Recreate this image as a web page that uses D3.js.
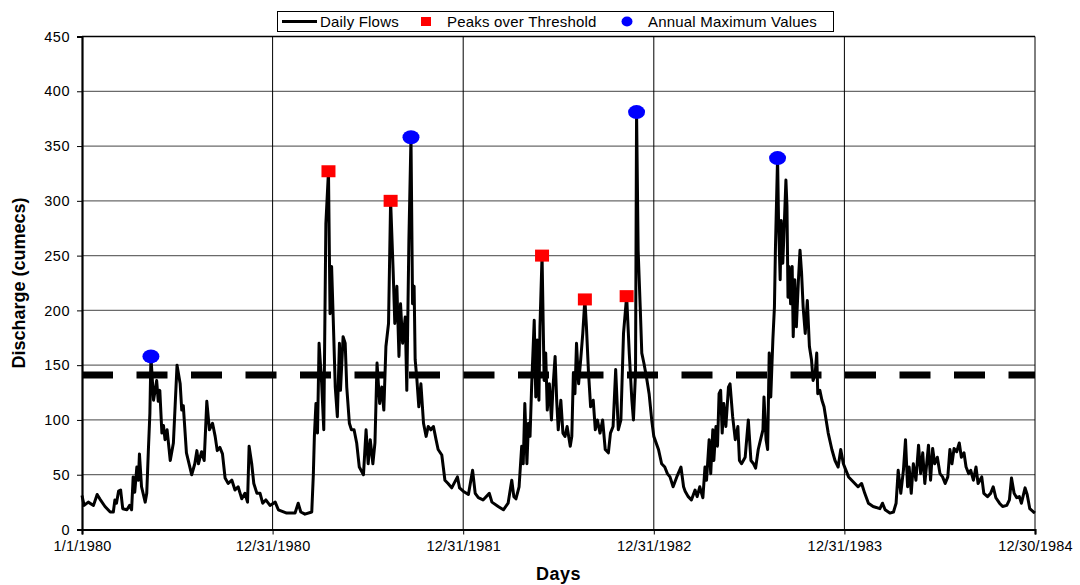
<!DOCTYPE html>
<html>
<head>
<meta charset="utf-8">
<script src="https://cdn.jsdelivr.net/npm/d3@7"></script>
<style>
  body { margin: 0; background: #fff; }
  text { font-family: 'Liberation Sans', Arial, sans-serif; }
</style>
</head>
<body>
<svg></svg>
<script>
const w = 1080;
const h = 585;
const svg = d3.select('svg').attr('width', w).attr('height', h);

// day offsets from 1/1/1980 and daily discharge (cumecs)
const flowDays = [
  0, 4, 12, 22, 29, 34, 44, 54, 60, 63, 66, 70, 74, 78, 86, 91, 95, 98, 101, 105,
  108, 110, 114, 121, 124, 127, 130, 132, 137, 143, 146, 149, 153, 156, 159, 163, 169, 175, 182, 188,
  191, 194, 200, 210, 216, 220, 223, 229, 234, 239, 244, 250, 255, 259, 264, 269, 274, 280, 287, 293,
  299, 306, 312, 317, 320, 325, 329, 335, 341, 346, 352, 360, 370, 376, 392, 408, 414, 419, 427, 440,
  443, 445, 448, 451, 454, 459, 463, 467, 472, 475, 478, 481, 485, 489, 493, 495, 500, 504, 507, 512,
  516, 521, 526, 531, 539, 544, 548, 552, 557, 561, 565, 570, 574, 578, 582, 587, 591, 596, 599, 603,
  607, 610, 614, 619, 622, 626, 630, 633, 636, 638, 641, 645, 649, 654, 659, 663, 668, 673, 678, 682,
  689, 695, 701, 708, 719, 723, 730, 740, 748, 753, 759, 768, 780, 785, 797, 807, 816, 823, 827, 831,
  837, 842, 845, 848, 852, 855, 858, 861, 866, 869, 872, 875, 877, 881, 885, 888, 891, 895, 899, 902,
  906, 909, 912, 917, 921, 925, 929, 935, 938, 941, 944, 947, 951, 955, 959, 963, 966, 970, 974, 979,
  983, 987, 992, 997, 1002, 1008, 1012, 1017, 1022, 1027, 1032, 1037, 1043, 1048, 1053, 1056, 1060, 1062, 1065, 1069,
  1072, 1076, 1081, 1086, 1091, 1095, 1104, 1110, 1116, 1121, 1126, 1132, 1139, 1147, 1152, 1155, 1161, 1167, 1174, 1178,
  1183, 1189, 1193, 1196, 1201, 1204, 1208, 1210, 1214, 1217, 1220, 1223, 1226, 1229, 1233, 1238, 1241, 1246, 1251, 1256,
  1259, 1263, 1270, 1276, 1281, 1286, 1290, 1295, 1298, 1304, 1306, 1310, 1313, 1316, 1319, 1323, 1326, 1328, 1332, 1334,
  1337, 1339, 1342, 1344, 1348, 1350, 1352, 1354, 1357, 1360, 1362, 1365, 1368, 1372, 1375, 1378, 1381, 1385, 1389, 1393,
  1397, 1400, 1404, 1407, 1409, 1413, 1417, 1421, 1425, 1429, 1436, 1442, 1448, 1453, 1458, 1463, 1468, 1474, 1480, 1486,
  1493, 1499, 1506, 1515, 1528, 1533, 1538, 1547, 1554, 1559, 1563, 1568, 1573, 1577, 1581, 1584, 1588, 1592, 1597, 1602,
  1606, 1610, 1614, 1617, 1621, 1625, 1629, 1633, 1638, 1643, 1648, 1653, 1658, 1662, 1666, 1670, 1675, 1680, 1684, 1689,
  1693, 1698, 1702, 1707, 1712, 1716, 1723, 1727, 1734, 1740, 1745, 1750, 1757, 1763, 1771, 1776, 1780, 1785, 1790, 1795,
  1799, 1806, 1810, 1815, 1822, 1825
];
const flowValues = [
  31, 22, 25, 22, 32, 28, 21, 16, 16, 27, 24, 35, 36, 19, 18, 22, 18, 48, 34, 57,
  45, 69, 39, 25, 33, 71, 106, 158, 118, 136, 117, 127, 88, 95, 82, 91, 63, 79, 150, 133,
  109, 113, 70, 50, 60, 72, 60, 71, 63, 117, 91, 97, 85, 72, 75, 69, 47, 42, 45, 36,
  39, 28, 33, 25, 76, 60, 42, 33, 33, 24, 27, 22, 25, 18, 15, 15, 24, 16, 14, 16,
  50, 85, 115, 88, 170, 133, 91, 279, 327, 197, 240, 194, 130, 103, 170, 127, 176, 170, 130, 97,
  91, 91, 79, 57, 50, 91, 60, 82, 60, 79, 152, 115, 130, 109, 167, 188, 300, 234, 188, 222,
  158, 206, 170, 194, 127, 264, 358, 206, 222, 155, 139, 112, 133, 97, 85, 94, 91, 94, 82, 73,
  68, 45, 42, 38, 48, 38, 35, 32, 54, 33, 29, 27, 33, 25, 21, 18, 24, 45, 30, 28,
  39, 76, 60, 115, 60, 97, 85, 130, 191, 121, 173, 118, 185, 250, 136, 161, 109, 133, 100, 130,
  158, 118, 91, 118, 88, 85, 94, 76, 85, 143, 124, 170, 133, 155, 179, 210, 185, 143, 112, 118,
  91, 100, 88, 100, 73, 70, 88, 94, 146, 91, 100, 179, 213, 161, 118, 100, 143, 381, 255, 203,
  161, 152, 139, 124, 100, 85, 73, 60, 57, 51, 48, 39, 48, 57, 39, 35, 30, 27, 36, 30,
  39, 29, 57, 45, 82, 51, 91, 63, 94, 76, 124, 127, 88, 115, 94, 130, 133, 103, 82, 94,
  63, 60, 66, 100, 63, 60, 56, 73, 79, 91, 121, 82, 73, 161, 121, 173, 203, 258, 339, 279,
  228, 282, 243, 267, 319, 295, 212, 240, 206, 240, 176, 228, 185, 228, 255, 234, 203, 179, 209, 167,
  155, 136, 142, 161, 124, 127, 118, 112, 100, 88, 73, 63, 57, 73, 60, 54, 48, 45, 42, 39,
  42, 33, 24, 21, 19, 24, 18, 15, 16, 24, 54, 33, 54, 82, 39, 57, 33, 60, 45, 77,
  51, 70, 42, 57, 77, 45, 74, 60, 66, 51, 48, 42, 48, 73, 60, 74, 71, 79, 66, 70,
  57, 51, 54, 45, 57, 42, 48, 33, 30, 33, 39, 29, 24, 21, 22, 27, 47, 33, 29, 30,
  24, 38, 32, 19, 16, 15
];

const potDays = [472, 591, 881, 963, 1043];
const potValues = [327, 300, 250, 210, 213];
const amDays = [132, 630, 1062, 1332];
const amValues = [158, 358, 381, 339];
const threshold = 141;

const tickDays = [0, 365, 730, 1095, 1460, 1825];
const tickLabels = ['1/1/1980', '12/31/1980', '12/31/1981', '12/31/1982', '12/31/1983', '12/30/1984'];
const yTicks = [0, 50, 100, 150, 200, 250, 300, 350, 400, 450];

const plotLeft = 82, plotRight = 1035, plotTop = 36.5, plotBottom = 529.5;
const font = "'Liberation Sans', Arial, sans-serif";

const x = d3.scaleLinear().domain([0, 1825]).range([plotLeft, plotRight]);
const y = d3.scaleLinear().domain([0, 450]).range([plotBottom, plotTop]);

// horizontal gridlines
svg.append('g')
  .selectAll('line')
  .data(yTicks.slice(1))
  .enter()
  .append('line')
  .attr('x1', plotLeft).attr('x2', plotRight)
  .attr('y1', (d) => y(d)).attr('y2', (d) => y(d))
  .attr('stroke', (d) => (d === 450 ? '#000' : '#6a6a6a'))
  .attr('stroke-width', 1.3);

// vertical gridlines
svg.append('g')
  .selectAll('line')
  .data(tickDays.slice(1))
  .enter()
  .append('line')
  .attr('x1', (d) => x(d)).attr('x2', (d) => x(d))
  .attr('y1', plotTop).attr('y2', plotBottom)
  .attr('stroke', '#000')
  .attr('stroke-width', 1);

// threshold
svg.append('line')
  .attr('x1', x(0)).attr('x2', x(1825))
  .attr('y1', y(threshold)).attr('y2', y(threshold))
  .attr('stroke', '#000')
  .attr('stroke-width', 7)
  .attr('stroke-dasharray', '31 23.5');

// daily flows
const line = d3.line()
  .x((d, i) => x(flowDays[i]))
  .y((d) => y(d));

svg.append('path')
  .datum(flowValues)
  .attr('d', line)
  .attr('fill', 'none')
  .attr('stroke', '#000')
  .attr('stroke-width', 3)
  .attr('stroke-linejoin', 'round');

// axes
const yAxis = d3.axisLeft(y).tickValues(yTicks).tickSize(5).tickPadding(7);
const gy = svg.append('g').attr('transform', `translate(${plotLeft}, 0)`).call(yAxis);
gy.select('.domain').attr('stroke-width', 2.2);
gy.selectAll('text')
  .attr('font-size', 14.5).attr('letter-spacing', 0.5)
  .attr('fill', '#000').attr('font-family', font);

const xAxis = d3.axisBottom(x)
  .tickValues(tickDays)
  .tickFormat((d, i) => tickLabels[i])
  .tickSize(5)
  .tickPadding(6);
const gx = svg.append('g').attr('transform', `translate(0, ${plotBottom})`).call(xAxis);
gx.select('.domain').attr('stroke-width', 2.2);
gx.selectAll('text')
  .attr('font-size', 14.5).attr('letter-spacing', 0.2)
  .attr('fill', '#000').attr('font-family', font);

// markers
svg.append('g')
  .selectAll('rect')
  .data(potValues)
  .enter()
  .append('rect')
  .attr('x', (d, i) => x(potDays[i]) - 7)
  .attr('y', (d) => y(d) - 6)
  .attr('width', 14)
  .attr('height', 12)
  .attr('fill', '#ff0000');

svg.append('g')
  .selectAll('ellipse')
  .data(amValues)
  .enter()
  .append('ellipse')
  .attr('cx', (d, i) => x(amDays[i]))
  .attr('cy', (d) => y(d))
  .attr('rx', 8.5)
  .attr('ry', 7)
  .attr('fill', '#0000ff');

// axis titles
svg.append('text')
  .attr('x', (plotLeft + plotRight) / 2)
  .attr('y', 580)
  .attr('text-anchor', 'middle')
  .attr('font-size', 18)
  .attr('font-weight', 'bold')
  .attr('letter-spacing', 0.5)
  .text('Days');

svg.append('text')
  .attr('transform', `translate(25, ${(plotTop + plotBottom) / 2}) rotate(-90)`)
  .attr('text-anchor', 'middle')
  .attr('font-size', 18)
  .attr('font-weight', 'bold')
  .text('Discharge (cumecs)');

// legend
const lg = svg.append('g');
lg.append('rect')
  .attr('x', 277.5).attr('y', 11.5)
  .attr('width', 556).attr('height', 20)
  .attr('fill', '#fff')
  .attr('stroke', '#000')
  .attr('stroke-width', 1);
lg.append('line')
  .attr('x1', 282).attr('x2', 317)
  .attr('y1', 21.5).attr('y2', 21.5)
  .attr('stroke', '#000').attr('stroke-width', 3);
lg.append('rect').attr('x', 421).attr('y', 17).attr('width', 10).attr('height', 9).attr('fill', '#ff0000');
lg.append('ellipse').attr('cx', 627).attr('cy', 21.5).attr('rx', 5.5).attr('ry', 5).attr('fill', '#0000ff');
const legendTexts = [['Daily Flows', 320], ['Peaks over Threshold', 447], ['Annual Maximum Values', 648]];
lg.selectAll('text')
  .data(legendTexts)
  .enter()
  .append('text')
  .attr('x', (d) => d[1])
  .attr('y', 27)
  .attr('font-size', 15)
  .attr('letter-spacing', 0.2)
  .text((d) => d[0]);
</script>
</body>
</html>
